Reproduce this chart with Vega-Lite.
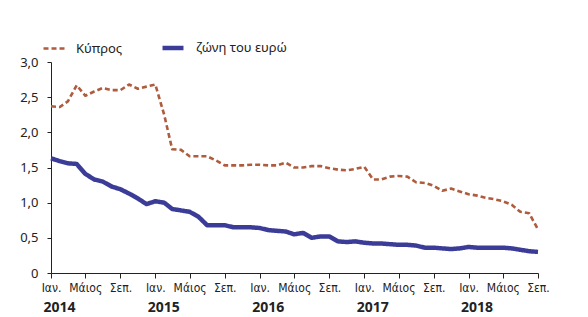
{
  "$schema": "https://vega.github.io/schema/vega-lite/v6.json",
  "width": 487,
  "height": 211,
  "autosize": "none",
  "padding": {"left": 51, "top": 62, "right": 50, "bottom": 44},
  "background": "white",
  "config": {
    "view": {"stroke": null},
    "axis": {"grid": false, "domainColor": "#222", "tickColor": "#222", "labelColor": "#222"},
    "axisY": {
      "values": [0, 0.5, 1, 1.5, 2, 2.5, 3],
      "labelExpr": "datum.value == 0 ? '0' : replace(format(datum.value, '.1f'), '.', ',')",
      "labelFont": "Noto Sans",
      "labelFontSize": 13,
      "tickSize": 4,
      "labelPadding": 9,
      "labelOverlap": false,
      "labelFlush": false,
      "title": null
    }
  },
  "data": {
    "values": [
      {"date": "2014-01-01", "series": "Κύπρος", "value": 2.37},
      {"date": "2014-02-01", "series": "Κύπρος", "value": 2.36},
      {"date": "2014-03-01", "series": "Κύπρος", "value": 2.44},
      {"date": "2014-04-01", "series": "Κύπρος", "value": 2.67},
      {"date": "2014-05-01", "series": "Κύπρος", "value": 2.52},
      {"date": "2014-06-01", "series": "Κύπρος", "value": 2.58},
      {"date": "2014-07-01", "series": "Κύπρος", "value": 2.63},
      {"date": "2014-08-01", "series": "Κύπρος", "value": 2.60},
      {"date": "2014-09-01", "series": "Κύπρος", "value": 2.60},
      {"date": "2014-10-01", "series": "Κύπρος", "value": 2.68},
      {"date": "2014-11-01", "series": "Κύπρος", "value": 2.62},
      {"date": "2014-12-01", "series": "Κύπρος", "value": 2.65},
      {"date": "2015-01-01", "series": "Κύπρος", "value": 2.68},
      {"date": "2015-02-01", "series": "Κύπρος", "value": 2.25},
      {"date": "2015-03-01", "series": "Κύπρος", "value": 1.76},
      {"date": "2015-04-01", "series": "Κύπρος", "value": 1.75},
      {"date": "2015-05-01", "series": "Κύπρος", "value": 1.66},
      {"date": "2015-06-01", "series": "Κύπρος", "value": 1.66},
      {"date": "2015-07-01", "series": "Κύπρος", "value": 1.66},
      {"date": "2015-08-01", "series": "Κύπρος", "value": 1.60},
      {"date": "2015-09-01", "series": "Κύπρος", "value": 1.53},
      {"date": "2015-10-01", "series": "Κύπρος", "value": 1.53},
      {"date": "2015-11-01", "series": "Κύπρος", "value": 1.53},
      {"date": "2015-12-01", "series": "Κύπρος", "value": 1.54},
      {"date": "2016-01-01", "series": "Κύπρος", "value": 1.54},
      {"date": "2016-02-01", "series": "Κύπρος", "value": 1.53},
      {"date": "2016-03-01", "series": "Κύπρος", "value": 1.53},
      {"date": "2016-04-01", "series": "Κύπρος", "value": 1.57},
      {"date": "2016-05-01", "series": "Κύπρος", "value": 1.50},
      {"date": "2016-06-01", "series": "Κύπρος", "value": 1.50},
      {"date": "2016-07-01", "series": "Κύπρος", "value": 1.52},
      {"date": "2016-08-01", "series": "Κύπρος", "value": 1.52},
      {"date": "2016-09-01", "series": "Κύπρος", "value": 1.49},
      {"date": "2016-10-01", "series": "Κύπρος", "value": 1.47},
      {"date": "2016-11-01", "series": "Κύπρος", "value": 1.46},
      {"date": "2016-12-01", "series": "Κύπρος", "value": 1.48},
      {"date": "2017-01-01", "series": "Κύπρος", "value": 1.51},
      {"date": "2017-02-01", "series": "Κύπρος", "value": 1.33},
      {"date": "2017-03-01", "series": "Κύπρος", "value": 1.33},
      {"date": "2017-04-01", "series": "Κύπρος", "value": 1.37},
      {"date": "2017-05-01", "series": "Κύπρος", "value": 1.38},
      {"date": "2017-06-01", "series": "Κύπρος", "value": 1.37},
      {"date": "2017-07-01", "series": "Κύπρος", "value": 1.29},
      {"date": "2017-08-01", "series": "Κύπρος", "value": 1.28},
      {"date": "2017-09-01", "series": "Κύπρος", "value": 1.24},
      {"date": "2017-10-01", "series": "Κύπρος", "value": 1.17},
      {"date": "2017-11-01", "series": "Κύπρος", "value": 1.20},
      {"date": "2017-12-01", "series": "Κύπρος", "value": 1.16},
      {"date": "2018-01-01", "series": "Κύπρος", "value": 1.12},
      {"date": "2018-02-01", "series": "Κύπρος", "value": 1.10},
      {"date": "2018-03-01", "series": "Κύπρος", "value": 1.07},
      {"date": "2018-04-01", "series": "Κύπρος", "value": 1.05},
      {"date": "2018-05-01", "series": "Κύπρος", "value": 1.02},
      {"date": "2018-06-01", "series": "Κύπρος", "value": 0.97},
      {"date": "2018-07-01", "series": "Κύπρος", "value": 0.87},
      {"date": "2018-08-01", "series": "Κύπρος", "value": 0.85},
      {"date": "2018-09-01", "series": "Κύπρος", "value": 0.62},
      {"date": "2014-01-01", "series": "ζώνη του ευρώ", "value": 1.63},
      {"date": "2014-02-01", "series": "ζώνη του ευρώ", "value": 1.59},
      {"date": "2014-03-01", "series": "ζώνη του ευρώ", "value": 1.56},
      {"date": "2014-04-01", "series": "ζώνη του ευρώ", "value": 1.55},
      {"date": "2014-05-01", "series": "ζώνη του ευρώ", "value": 1.41},
      {"date": "2014-06-01", "series": "ζώνη του ευρώ", "value": 1.33},
      {"date": "2014-07-01", "series": "ζώνη του ευρώ", "value": 1.30},
      {"date": "2014-08-01", "series": "ζώνη του ευρώ", "value": 1.23},
      {"date": "2014-09-01", "series": "ζώνη του ευρώ", "value": 1.19},
      {"date": "2014-10-01", "series": "ζώνη του ευρώ", "value": 1.13},
      {"date": "2014-11-01", "series": "ζώνη του ευρώ", "value": 1.06},
      {"date": "2014-12-01", "series": "ζώνη του ευρώ", "value": 0.98},
      {"date": "2015-01-01", "series": "ζώνη του ευρώ", "value": 1.02},
      {"date": "2015-02-01", "series": "ζώνη του ευρώ", "value": 1.00},
      {"date": "2015-03-01", "series": "ζώνη του ευρώ", "value": 0.91},
      {"date": "2015-04-01", "series": "ζώνη του ευρώ", "value": 0.89},
      {"date": "2015-05-01", "series": "ζώνη του ευρώ", "value": 0.87},
      {"date": "2015-06-01", "series": "ζώνη του ευρώ", "value": 0.80},
      {"date": "2015-07-01", "series": "ζώνη του ευρώ", "value": 0.68},
      {"date": "2015-08-01", "series": "ζώνη του ευρώ", "value": 0.68},
      {"date": "2015-09-01", "series": "ζώνη του ευρώ", "value": 0.68},
      {"date": "2015-10-01", "series": "ζώνη του ευρώ", "value": 0.65},
      {"date": "2015-11-01", "series": "ζώνη του ευρώ", "value": 0.65},
      {"date": "2015-12-01", "series": "ζώνη του ευρώ", "value": 0.65},
      {"date": "2016-01-01", "series": "ζώνη του ευρώ", "value": 0.64},
      {"date": "2016-02-01", "series": "ζώνη του ευρώ", "value": 0.61},
      {"date": "2016-03-01", "series": "ζώνη του ευρώ", "value": 0.60},
      {"date": "2016-04-01", "series": "ζώνη του ευρώ", "value": 0.59},
      {"date": "2016-05-01", "series": "ζώνη του ευρώ", "value": 0.55},
      {"date": "2016-06-01", "series": "ζώνη του ευρώ", "value": 0.57},
      {"date": "2016-07-01", "series": "ζώνη του ευρώ", "value": 0.50},
      {"date": "2016-08-01", "series": "ζώνη του ευρώ", "value": 0.52},
      {"date": "2016-09-01", "series": "ζώνη του ευρώ", "value": 0.52},
      {"date": "2016-10-01", "series": "ζώνη του ευρώ", "value": 0.45},
      {"date": "2016-11-01", "series": "ζώνη του ευρώ", "value": 0.44},
      {"date": "2016-12-01", "series": "ζώνη του ευρώ", "value": 0.45},
      {"date": "2017-01-01", "series": "ζώνη του ευρώ", "value": 0.43},
      {"date": "2017-02-01", "series": "ζώνη του ευρώ", "value": 0.42},
      {"date": "2017-03-01", "series": "ζώνη του ευρώ", "value": 0.42},
      {"date": "2017-04-01", "series": "ζώνη του ευρώ", "value": 0.41},
      {"date": "2017-05-01", "series": "ζώνη του ευρώ", "value": 0.40},
      {"date": "2017-06-01", "series": "ζώνη του ευρώ", "value": 0.40},
      {"date": "2017-07-01", "series": "ζώνη του ευρώ", "value": 0.39},
      {"date": "2017-08-01", "series": "ζώνη του ευρώ", "value": 0.36},
      {"date": "2017-09-01", "series": "ζώνη του ευρώ", "value": 0.36},
      {"date": "2017-10-01", "series": "ζώνη του ευρώ", "value": 0.35},
      {"date": "2017-11-01", "series": "ζώνη του ευρώ", "value": 0.34},
      {"date": "2017-12-01", "series": "ζώνη του ευρώ", "value": 0.35},
      {"date": "2018-01-01", "series": "ζώνη του ευρώ", "value": 0.37},
      {"date": "2018-02-01", "series": "ζώνη του ευρώ", "value": 0.36},
      {"date": "2018-03-01", "series": "ζώνη του ευρώ", "value": 0.36},
      {"date": "2018-04-01", "series": "ζώνη του ευρώ", "value": 0.36},
      {"date": "2018-05-01", "series": "ζώνη του ευρώ", "value": 0.36},
      {"date": "2018-06-01", "series": "ζώνη του ευρώ", "value": 0.35},
      {"date": "2018-07-01", "series": "ζώνη του ευρώ", "value": 0.33},
      {"date": "2018-08-01", "series": "ζώνη του ευρώ", "value": 0.31},
      {"date": "2018-09-01", "series": "ζώνη του ευρώ", "value": 0.30}
    ]
  },
  "layer": [
    {
      "mark": {"type": "line", "strokeJoin": "round", "strokeCap": "butt"},
      "encoding": {
        "x": {
          "field": "date", "type": "temporal",
          "scale": {"type": "utc", "domain": [{"year": 2014, "month": 1, "date": 1, "utc": true}, {"year": 2018, "month": 9, "date": 1, "utc": true}]},
          "axis": {
            "orient": "bottom", "title": null,
            "values": [
              {"year": 2014, "month": 1, "date": 1, "utc": true}, {"year": 2014, "month": 5, "date": 1, "utc": true}, {"year": 2014, "month": 9, "date": 1, "utc": true},
              {"year": 2015, "month": 1, "date": 1, "utc": true}, {"year": 2015, "month": 5, "date": 1, "utc": true}, {"year": 2015, "month": 9, "date": 1, "utc": true},
              {"year": 2016, "month": 1, "date": 1, "utc": true}, {"year": 2016, "month": 5, "date": 1, "utc": true}, {"year": 2016, "month": 9, "date": 1, "utc": true},
              {"year": 2017, "month": 1, "date": 1, "utc": true}, {"year": 2017, "month": 5, "date": 1, "utc": true}, {"year": 2017, "month": 9, "date": 1, "utc": true},
              {"year": 2018, "month": 1, "date": 1, "utc": true}, {"year": 2018, "month": 5, "date": 1, "utc": true}, {"year": 2018, "month": 9, "date": 1, "utc": true}
            ],
            "labelExpr": "utcmonth(datum.value) == 0 ? 'Ιαν.' : (utcmonth(datum.value) == 4 ? 'Μάιος' : 'Σεπ.')",
            "labelFont": "Liberation Sans Narrow, DejaVu Sans Condensed",
            "labelFontSize": 12,
            "labelPadding": 4,
            "tickSize": 5,
            "labelOverlap": false,
            "labelFlush": false
          }
        },
        "y": {
          "field": "value", "type": "quantitative",
          "scale": {"domain": [0, 3], "nice": false}
        },
        "color": {
          "field": "series", "type": "nominal",
          "scale": {"domain": ["Κύπρος", "ζώνη του ευρώ"], "range": ["#ae5c3d", "#3b3c98"]},
          "legend": {
            "title": null, "orient": "none", "legendX": -9, "legendY": -27, "direction": "horizontal",
            "symbolType": "stroke", "symbolSize": 440, "labelFont": "Noto Sans", "labelFontSize": 13,
            "labelColor": "#222", "columnPadding": 30, "labelOffset": 10
          }
        },
        "strokeDash": {
          "field": "series", "type": "nominal",
          "scale": {"domain": ["Κύπρος", "ζώνη του ευρώ"], "range": [[5, 3], [1, 0]]},
          "legend": null
        },
        "strokeWidth": {
          "field": "series", "type": "nominal",
          "scale": {"domain": ["Κύπρος", "ζώνη του ευρώ"], "range": [2.6, 4.5]},
          "legend": null
        }
      }
    },
    {
      "mark": {"type": "line", "opacity": 0},
      "encoding": {
        "x": {
          "field": "date", "type": "temporal",
          "axis": {
            "orient": "bottom", "title": null, "domain": false, "ticks": false, "tickSize": 0,
            "values": [
              {"year": 2014, "month": 1, "date": 1, "utc": true}, {"year": 2015, "month": 1, "date": 1, "utc": true},
              {"year": 2016, "month": 1, "date": 1, "utc": true}, {"year": 2017, "month": 1, "date": 1, "utc": true},
              {"year": 2018, "month": 1, "date": 1, "utc": true}
            ],
            "labelExpr": "'' + utcyear(datum.value)",
            "labelFont": "Noto Sans", "labelFontWeight": "bold", "labelFontSize": 14,
            "labelAlign": "left", "labelOffset": -8, "labelPadding": 27,
            "labelOverlap": false, "labelFlush": false
          }
        },
        "y": {"field": "value", "type": "quantitative"},
        "detail": {"field": "series"}
      }
    }
  ],
  "resolve": {"axis": {"x": "independent"}}
}
